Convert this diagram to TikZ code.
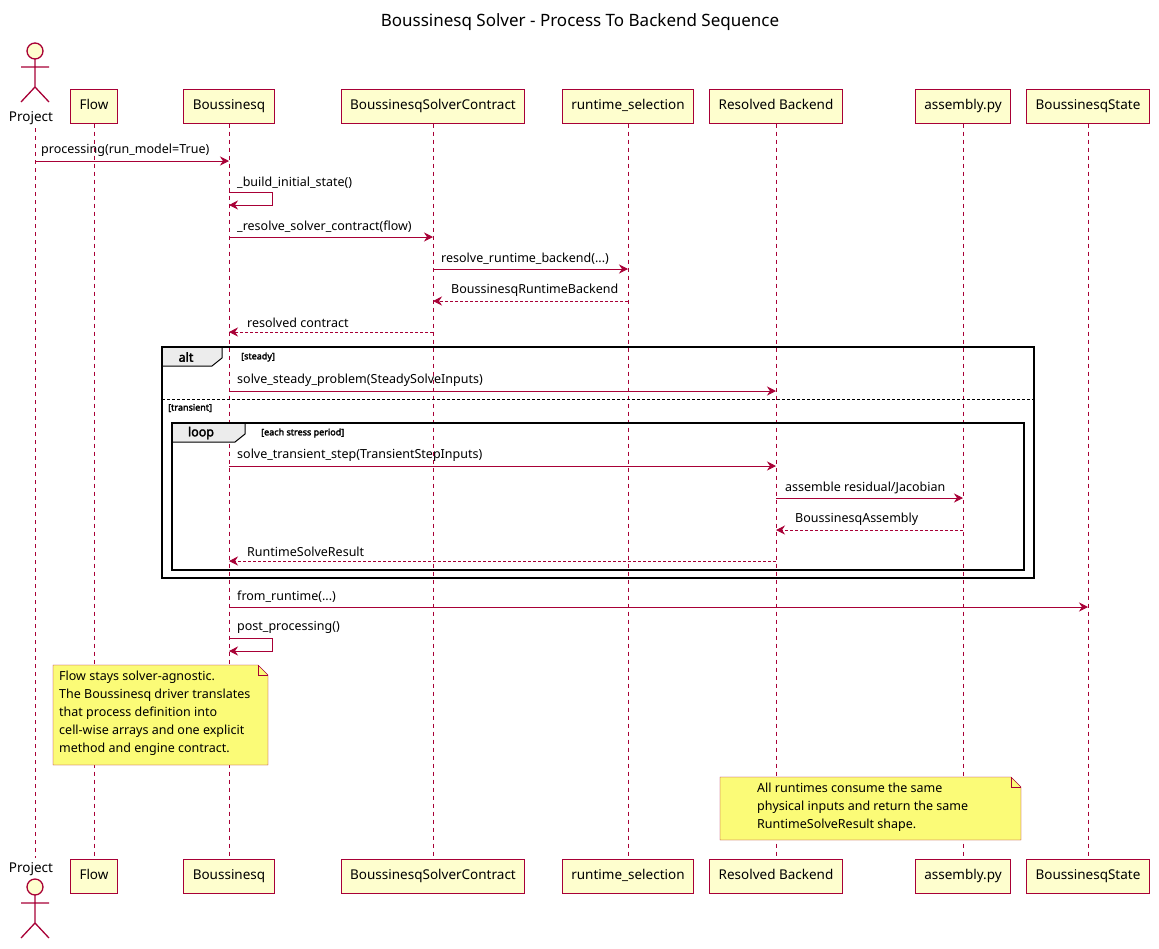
\documentclass[tikz,border=0pt]{standalone}
\usepackage{fontspec}
\setmainfont{Noto Sans}
\newfontfamily\boldf{Noto Sans}[FakeBold=2.5]
\usetikzlibrary{arrows.meta,calc}
\definecolor{pb}{HTML}{A80036}
\definecolor{pf}{HTML}{FEFECE}
\definecolor{nf}{HTML}{FBFB77}
\tikzset{
 part/.style={draw=pb,fill=pf,minimum height=34pt,text height=10pt,text depth=3pt,inner xsep=9pt,line width=1pt,font=\fontsize{13.5}{15}\selectfont},
 life/.style={draw=pb,dash pattern=on 4pt off 4pt,line width=0.7pt},
 msg/.style={draw=pb,-{Stealth[length=9pt,width=9pt]},line width=0.8pt},
 ret/.style={msg,dash pattern=on 3pt off 2pt},
 lbl/.style={anchor=south west,inner sep=0pt,font=\fontsize{12.5}{14}\selectfont},
 grp/.style={draw=black,line width=1.8pt},
 tiny/.style={font=\boldf\fontsize{9}{10}\selectfont,anchor=west,inner sep=0pt},
 ntext/.style={align=left,anchor=north west,inner sep=0pt,font=\fontsize{12.5}{18}\selectfont},
}
\begin{document}
\begin{tikzpicture}[x=1pt,y=-1pt]
\useasboundingbox (0,0) rectangle (1159,948);
\node[font=\fontsize{17}{20}\selectfont] (title) at (580,22) {Boussinesq Solver - Process To Backend Sequence};
% participants
\foreach \n/\x/\t in {F/94/Flow,B/229/Boussinesq,C/433/BoussinesqSolverContract,R/628/runtime\_selection,K/776/Resolved Backend,A/963/assembly.py,S/1088/BoussinesqState}{
 \node[part] (\n t) at (\x,106) {\t};
 \node[part] (\n b) at (\x,876) {\t};
 \draw[life] (\n t.south) -- (\n b.north);
}
% actor
\coordinate (Pt) at (35,128); \coordinate (Pb) at (35,858);
\draw[life] (Pt) -- (Pb);
\foreach \y/\ly in {43/118, 879/869}{
 \begin{scope}[shift={(35,\y)},draw=pb,line width=1.3pt]
  \draw[fill=pf] (0,8) circle (8);
  \draw (0,16) -- (0,44) (-14,24) -- (14,24) (0,44) -- (-14,59) (0,44) -- (14,59);
 \end{scope}
 \node[font=\fontsize{13.5}{15}\selectfont] at (31,\ly) {Project};
}
% groups
\draw[grp] (162,347) rectangle (1034,578);
\draw[grp,fill=gray!15,line width=1pt] (162,347) -- (222,347) -- (222,358) -- (212,366) -- (162,366) -- cycle;
\draw[grp] (162,347) rectangle (1034,578);
\node[font=\boldf\fontsize{12.5}{14}\selectfont] (alt) at (186,357) {alt};
\node[tiny] (st) at (241,357) {[steady]};
\draw[black,dash pattern=on 3pt off 2pt,line width=0.8pt] (162,399) -- (1034,399);
\node[tiny] (tr) at (168,408) {[transient]};
\draw[grp] (172,423) rectangle (1024,570);
\draw[grp,fill=gray!15,line width=1pt] (172,423) -- (245,423) -- (245,434) -- (235,442) -- (172,442) -- cycle;
\draw[grp] (172,423) rectangle (1024,570);
\node[font=\boldf\fontsize{12.5}{14}\selectfont] (lp) at (201,433) {loop};
\node[tiny] (esp) at (261,433) {[each stress period]};
% messages
\draw[msg] (Pt |- 0,161) -- (Bt |- 0,161);
\node[lbl] at (41,157) {processing(run\_model=True)};
\draw[msg] (Bt |- 0,192) -- (272,192) -- (272,205) -- (Bt |- 0,205);
\node[lbl] at (237,189) {\_build\_initial\_state()};
\draw[msg] (Bt |- 0,237) -- (Ct |- 0,237);
\node[lbl] at (237,233) {\_resolve\_solver\_contract(flow)};
\draw[msg] (Ct |- 0,269) -- (Rt |- 0,269);
\node[lbl] at (441,265) {resolve\_runtime\_backend(...)};
\draw[ret] (Rt |- 0,301) -- (Ct |- 0,301);
\node[lbl] at (451,297) {BoussinesqRuntimeBackend};
\draw[ret] (Ct |- 0,332) -- (Bt |- 0,332);
\node[lbl] at (247,328) {resolved contract};
\draw[msg] (Bt |- 0,391) -- (Kt |- 0,391);
\node[lbl] at (237,387) {solve\_steady\_problem(SteadySolveInputs)};
\draw[msg] (Bt |- 0,466) -- (Kt |- 0,466);
\node[lbl] at (237,462) {solve\_transient\_step(TransientStepInputs)};
\draw[msg] (Kt |- 0,498) -- (At |- 0,498);
\node[lbl] at (785,494) {assemble residual/Jacobian};
\draw[ret] (At |- 0,530) -- (Kt |- 0,530);
\node[lbl] at (795,526) {BoussinesqAssembly};
\draw[ret] (Kt |- 0,561) -- (Bt |- 0,561);
\node[lbl] at (247,557) {RuntimeSolveResult};
\draw[msg] (Bt |- 0,607) -- (St |- 0,607);
\node[lbl] at (237,603) {from\_runtime(...)};
\draw[msg] (Bt |- 0,638) -- (272,638) -- (272,651) -- (Bt |- 0,651);
\node[lbl] at (237,634) {post\_processing()};
% notes
\draw[pb,fill=nf] (53,665) -- (258,665) -- (268,675) -- (268,765) -- (53,765) -- cycle;
\draw[pb] (258,665) -- (258,675) -- (268,675);
\node[ntext] (n1) at (59,671) {Flow stays solver-agnostic.\\The Boussinesq driver translates\\that process definition into\\cell-wise arrays and one explicit\\method and engine contract.};
\draw[pb,fill=nf] (720,777) -- (1011,777) -- (1021,787) -- (1021,840) -- (720,840) -- cycle;
\draw[pb] (1011,777) -- (1011,787) -- (1021,787);
\node[ntext] (n2) at (757,783) {All runtimes consume the same\\physical inputs and return the same\\RuntimeSolveResult shape.};
\end{tikzpicture}
\end{document}
